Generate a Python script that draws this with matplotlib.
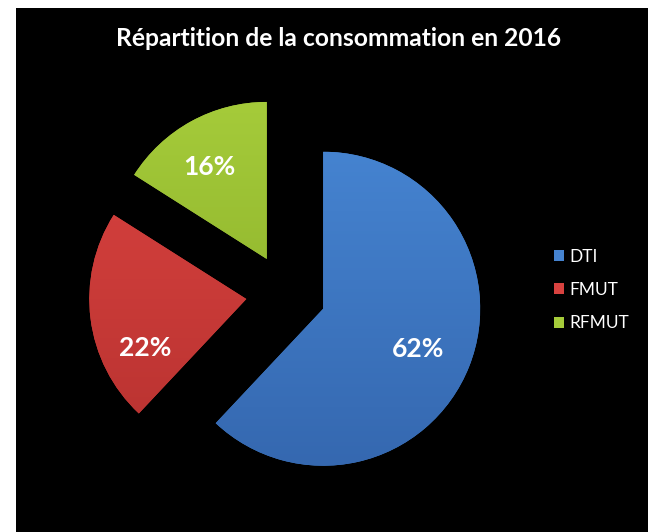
import matplotlib.pyplot as plt
import numpy as np
from matplotlib.patches import Rectangle
from matplotlib.colors import LinearSegmentedColormap

plt.rcParams['font.family'] = ['Lato', 'DejaVu Sans']

labels = ['DTI', 'FMUT', 'RFMUT']
values = [62, 22, 16]
colors = ['#4583d0', '#d8423f', '#a5cb3a']
dark = ['#3568b0', '#b83230', '#88ad28']
title = 'Répartition de la consommation en 2016'

W, H = 648, 532
fig = plt.figure(figsize=(W / 100, H / 100), dpi=100, facecolor='white')

ax = fig.add_axes([0, 0, 1, 1])
ax.add_patch(Rectangle((16, 0), W, H - 8, facecolor='black', edgecolor='none', zorder=0))

# explode is in data units here (pixels)
cx, cy, R = 286, H - 294, 157
wedges, texts, autotexts = ax.pie(values, colors=colors, startangle=90, counterclock=False,
                                  explode=[40] * 3, radius=R, center=(cx, cy),
                                  autopct='%1.0f%%', pctdistance=0.67,
                                  textprops=dict(color='white', fontsize=19, fontweight='bold'),
                                  wedgeprops=dict(linewidth=0))
ax.set_xlim(0, W)
ax.set_ylim(0, H)
ax.set_aspect('equal')
ax.axis('off')

# gradient fill clipped to each wedge
grad = np.linspace(0, 1, 256).reshape(-1, 1)
for w, c0, c1 in zip(wedges, colors, dark):
    w.set_zorder(1)
    cmap = LinearSegmentedColormap.from_list('g', [c1, c0])
    wx, wy = w.center
    im = ax.imshow(grad, cmap=cmap, extent=(wx - R, wx + R, wy - R, wy + R),
                   origin='lower', zorder=1.5, aspect='auto')
    im.set_clip_path(w)

# label nudges (pixels) to sit like the original
nudge = [(-3, -2), (3, -36), (-7, 0)]
for t, (dx, dy) in zip(autotexts, nudge):
    x, y = t.get_position()
    t.set_position((x + dx, y + dy))
    t.set_zorder(3)
ax.set_xlim(0, W)
ax.set_ylim(0, H)

ax.text(339, H - 38, title, color='white', fontsize=17.7, fontweight='bold',
        ha='center', va='center')

leg = fig.legend(wedges, labels, loc='center left', bbox_to_anchor=(538 / W, 1 - 290 / H),
                 frameon=False, labelcolor='white', fontsize=12.5, handlelength=0.6,
                 handleheight=0.6, handletextpad=0.3, labelspacing=1.0)

fig.savefig('out.png', dpi=100, facecolor=fig.get_facecolor())
